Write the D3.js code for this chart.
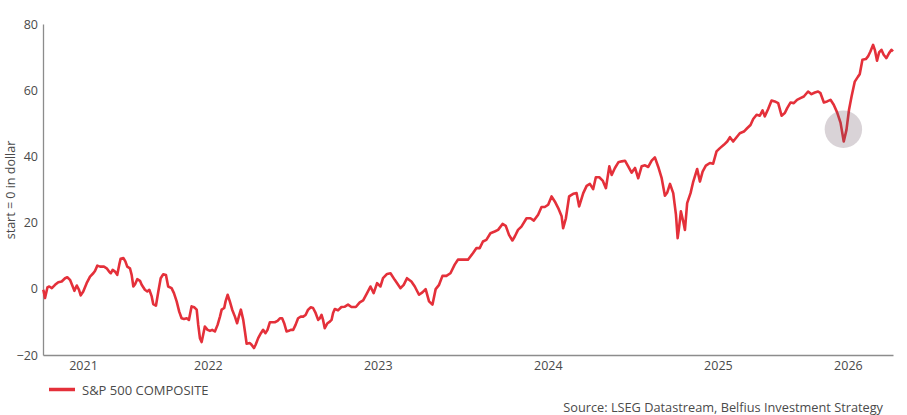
<!DOCTYPE html>
<html lang="en">

<head>
  <meta charset="utf-8">
  <title>S&amp;P 500 composite, start = 0 in dollar</title>
  <script src="https://cdnjs.cloudflare.com/ajax/libs/d3/7.8.5/d3.min.js"></script>
  <style type="text/css">
    body {
      margin: 0;
      background: #fff;
    }
    text {
      font-family: "Open Sans", sans-serif;
      fill: #4a4a4a;
    }
    .line {
      fill: none;
      stroke: #e4303a;
      stroke-width: 2.6;
      stroke-linejoin: round;
    }
    .axis .domain {
      stroke: #8c8c8c;
      stroke-width: 1.3;
    }
  </style>
</head>

<body>
  <script>
    var w = 907;
    var h = 415;

    // Data: time as decimal years, value relative to start
    var yearFrac = [
      2021.531, 2021.541, 2021.555, 2021.566, 2021.581, 2021.600, 2021.619, 2021.639, 2021.659, 2021.672,
      2021.688, 2021.704, 2021.714, 2021.728, 2021.741, 2021.751, 2021.766, 2021.786, 2021.806, 2021.825,
      2021.835, 2021.849, 2021.865, 2021.888, 2021.904, 2021.918, 2021.928, 2021.939, 2021.953, 2021.966,
      2021.978, 2021.986, 2022.002, 2022.014, 2022.025, 2022.041, 2022.051, 2022.061, 2022.071, 2022.084,
      2022.100, 2022.110, 2022.129, 2022.143, 2022.155, 2022.169, 2022.178, 2022.194, 2022.208, 2022.222,
      2022.237, 2022.253, 2022.266, 2022.286, 2022.300, 2022.316, 2022.331, 2022.345, 2022.359, 2022.375,
      2022.388, 2022.404, 2022.419, 2022.434, 2022.443, 2022.453, 2022.463, 2022.472, 2022.482, 2022.498,
      2022.512, 2022.525, 2022.541, 2022.557, 2022.571, 2022.581, 2022.596, 2022.604, 2022.616, 2022.629,
      2022.643, 2022.659, 2022.672, 2022.682, 2022.694, 2022.708, 2022.718, 2022.728, 2022.747, 2022.757,
      2022.771, 2022.781, 2022.796, 2022.812, 2022.825, 2022.839, 2022.851, 2022.865, 2022.878, 2022.894,
      2022.910, 2022.924, 2022.937, 2022.949, 2022.963, 2022.976, 2022.988, 2023.002, 2023.016, 2023.031,
      2023.047, 2023.061, 2023.075, 2023.090, 2023.106, 2023.119, 2023.134, 2023.149, 2023.159, 2023.169,
      2023.178, 2023.188, 2023.204, 2023.218, 2023.228, 2023.237, 2023.247, 2023.266, 2023.286, 2023.306,
      2023.325, 2023.345, 2023.371, 2023.394, 2023.414, 2023.437, 2023.457, 2023.476, 2023.496, 2023.516,
      2023.531, 2023.555, 2023.575, 2023.600, 2023.634, 2023.653, 2023.672, 2023.698, 2023.718, 2023.743,
      2023.763, 2023.782, 2023.802, 2023.822, 2023.841, 2023.861, 2023.881, 2023.904, 2023.928, 2023.953,
      2023.972, 2024.002, 2024.031, 2024.061, 2024.081, 2024.100, 2024.119, 2024.139, 2024.163, 2024.188,
      2024.208, 2024.234, 2024.253, 2024.272, 2024.292, 2024.306, 2024.325, 2024.345, 2024.375, 2024.398,
      2024.418, 2024.443, 2024.463, 2024.482, 2024.502, 2024.522, 2024.541, 2024.561, 2024.581, 2024.590,
      2024.606, 2024.625, 2024.649, 2024.669, 2024.684, 2024.708, 2024.728, 2024.747, 2024.766, 2024.782,
      2024.802, 2024.822, 2024.841, 2024.861, 2024.875, 2024.894, 2024.914, 2024.934, 2024.953, 2024.972,
      2024.992, 2025.012, 2025.031, 2025.051, 2025.071, 2025.090, 2025.110, 2025.129, 2025.149, 2025.169,
      2025.188, 2025.202, 2025.218, 2025.237, 2025.253, 2025.263, 2025.272, 2025.282, 2025.296, 2025.306,
      2025.319, 2025.339, 2025.355, 2025.378, 2025.394, 2025.410, 2025.429, 2025.453, 2025.472, 2025.492,
      2025.512, 2025.535, 2025.555, 2025.571, 2025.590, 2025.610, 2025.629, 2025.653, 2025.672, 2025.692,
      2025.708, 2025.728, 2025.747, 2025.763, 2025.776, 2025.796, 2025.816, 2025.835, 2025.855, 2025.875,
      2025.894, 2025.908, 2025.928, 2025.947, 2025.966, 2025.986, 2026.006, 2026.031, 2026.051, 2026.071,
      2026.090, 2026.104, 2026.124, 2026.143, 2026.163, 2026.182, 2026.202, 2026.222, 2026.241, 2026.257,
      2026.272, 2026.287, 2026.306, 2026.325, 2026.335, 2026.351, 2026.371, 2026.384, 2026.398, 2026.414,
      2026.424, 2026.437, 2026.449, 2026.463, 2026.476, 2026.492, 2026.508, 2026.522, 2026.531
    ];

    var values = [
      -0.3, -2.8, 0.4, 0.7, 0.2, 1.2, 2.0, 2.2, 3.2, 3.5,
      2.7, 0.7, -0.6, 1.0, -0.3, -2.0, -0.8, 1.7, 3.7, 4.7,
      5.4, 7.0, 6.7, 6.7, 6.2, 5.2, 4.7, 5.7, 5.2, 4.2,
      7.3, 9.1, 9.3, 8.3, 6.7, 6.2, 4.2, 0.7, 1.4, 2.9,
      2.4, 1.2, -0.3, -0.8, -0.3, -2.3, -4.6, -5.1, -0.8, 3.2,
      4.4, 4.2, 0.7, 0.2, -1.3, -3.8, -6.9, -8.9, -9.1, -8.9,
      -9.4, -5.3, -5.6, -6.3, -10.9, -14.9, -16.1, -13.9, -11.4, -12.4,
      -12.7, -12.4, -12.9, -10.9, -8.4, -6.3, -5.8, -3.8, -1.8, -3.8,
      -6.3, -8.4, -10.4, -8.4, -6.3, -9.4, -12.9, -16.6, -16.4, -16.9,
      -17.9, -16.9, -14.9, -13.4, -12.4, -13.4, -12.4, -10.1, -10.1, -10.1,
      -9.7, -8.9, -8.9, -10.4, -12.9, -12.7, -12.4, -12.4, -10.9, -8.9,
      -8.4, -8.4, -7.9, -6.3, -5.6, -5.8, -7.3, -9.4, -8.9, -7.9,
      -9.4, -11.9, -10.4, -9.9, -9.4, -7.3, -6.1, -6.5, -5.5, -5.4,
      -4.8, -5.5, -5.5, -4.1, -3.5, -1.3, 0.7, -1.3, 1.7, 0.7,
      3.2, 4.5, 4.7, 2.7, 0.2, 1.2, 3.2, 2.2, 0.7, -1.8,
      -1.1, -0.1, -3.8, -4.8, -0.1, 1.2, 3.9, 3.9, 4.7, 7.3,
      8.8, 8.8, 8.8, 10.8, 12.3, 12.3, 14.3, 14.8, 16.8, 17.3,
      17.8, 19.6, 19.0, 16.3, 14.6, 15.8, 17.8, 18.8, 21.3, 21.3,
      20.6, 22.4, 24.7, 24.7, 25.4, 27.9, 26.4, 24.4, 21.9, 18.3,
      21.3, 27.9, 28.7, 28.9, 24.9, 28.9, 31.1, 31.7, 30.1, 33.7,
      33.7, 32.7, 30.4, 37.0, 34.4, 36.5, 38.2, 38.5, 38.7, 37.0,
      35.1, 36.5, 33.4, 37.0, 37.3, 36.8, 38.7, 39.7, 36.8, 33.4,
      28.1, 29.1, 31.7, 28.9, 22.4, 15.3, 18.8, 23.4, 20.3, 17.8,
      25.9, 28.9, 32.4, 36.2, 32.4, 35.4, 37.2, 38.0, 37.8, 41.5,
      42.5, 43.5, 44.5, 45.8, 44.5, 45.8, 47.0, 47.5, 48.5, 49.5,
      51.3, 52.6, 52.3, 53.9, 52.1, 54.3, 56.9, 56.6, 56.1, 52.3,
      53.1, 54.6, 56.3, 56.1, 57.1, 57.6, 58.1, 59.6, 58.8, 59.3,
      59.6, 59.1, 56.3, 56.6, 57.1, 55.6, 53.3, 50.2, 44.5, 48.0,
      54.1, 58.1, 62.6, 64.1, 64.8, 69.2, 69.4, 70.2, 71.7, 73.7,
      72.2, 68.9, 71.4, 72.2, 70.7, 69.7, 71.2, 72.2, 71.7
    ];

    var years = [2021, 2022, 2023, 2024, 2025, 2026];
    var yTicks = [-20, 0, 20, 40, 60, 80];
    var highlight = { year: 2026.239, value: 48.2 };
    var seriesName = 'S&P 500 COMPOSITE';
    var yTitle = 'start = 0 in dollar';
    var source = 'Source: LSEG Datastream, Belfius Investment Strategy';

    function fracToDate (f) {
      var yr = Math.floor(f);
      var a = new Date(yr, 0, 1).getTime();
      var b = new Date(yr + 1, 0, 1).getTime();
      return new Date(a + (f - yr) * (b - a));
    }

    var dataset = yearFrac.map(function (f, i) {
      return { date: fracToDate(f), value: values[i] };
    });

    var plotLeft = 43, plotRight = 893, plotTop = 24, plotBottom = 355;
    var d0 = fracToDate(2021.529);
    var d1 = fracToDate(2026.531);

    var xScale = d3.scaleTime().domain([d0, d1]).range([plotLeft, plotRight]);
    var yScale = d3.scaleLinear().domain([-20, 80]).range([plotBottom, plotTop]);

    var svg = d3.select('body')
      .append('svg')
      .attr('width', w)
      .attr('height', h);

    // year labels sit in the middle of the visible part of each year
    var yearMids = years.map(function (y) {
      var s = Math.max(new Date(y, 0, 1), d0);
      var e = Math.min(new Date(y + 1, 0, 1), d1);
      return new Date((s + e) / 2);
    });

    svg.append('g')
      .attr('class', 'axis')
      .attr('transform', 'translate(0,' + plotBottom + ')')
      .call(d3.axisBottom(xScale)
        .tickValues(yearMids)
        .tickFormat(d3.timeFormat('%Y'))
        .tickSize(0)
        .tickSizeOuter(0)
        .tickPadding(6))
      .selectAll('text')
      .style('font-family', '"Open Sans", sans-serif')
      .style('font-size', '12.5px')
      .attr('fill', '#4a4a4a');

    svg.append('g')
      .attr('class', 'axis')
      .attr('transform', 'translate(' + plotLeft + ',0)')
      .call(d3.axisLeft(yScale)
        .tickValues(yTicks)
        .tickSize(0)
        .tickSizeOuter(0)
        .tickPadding(5))
      .selectAll('text')
      .style('font-family', '"Open Sans", sans-serif')
      .style('font-size', '12.5px')
      .attr('fill', '#4a4a4a');

    svg.append('text')
      .attr('transform', 'translate(15,190) rotate(-90)')
      .attr('text-anchor', 'middle')
      .style('font-size', '12.5px')
      .text(yTitle);

    var line = d3.line()
      .x(d => xScale(d.date))
      .y(d => yScale(d.value));

    svg.append('path')
      .datum(dataset)
      .attr('class', 'line')
      .attr('d', line);

    svg.append('circle')
      .attr('cx', xScale(fracToDate(highlight.year)))
      .attr('cy', yScale(highlight.value))
      .attr('r', 18.7)
      .attr('fill', 'rgba(105,80,95,0.25)');

    // legend
    svg.append('line')
      .attr('x1', 49).attr('x2', 75)
      .attr('y1', 389.5).attr('y2', 389.5)
      .attr('stroke', '#e4303a')
      .attr('stroke-width', 3.5);

    svg.append('text')
      .attr('x', 82)
      .attr('y', 395)
      .style('font-size', '13px')
      .text(seriesName);

    svg.append('text')
      .attr('x', 883)
      .attr('y', 411.5)
      .attr('text-anchor', 'end')
      .style('font-size', '12.75px')
      .text(source);
  </script>
</body>

</html>
